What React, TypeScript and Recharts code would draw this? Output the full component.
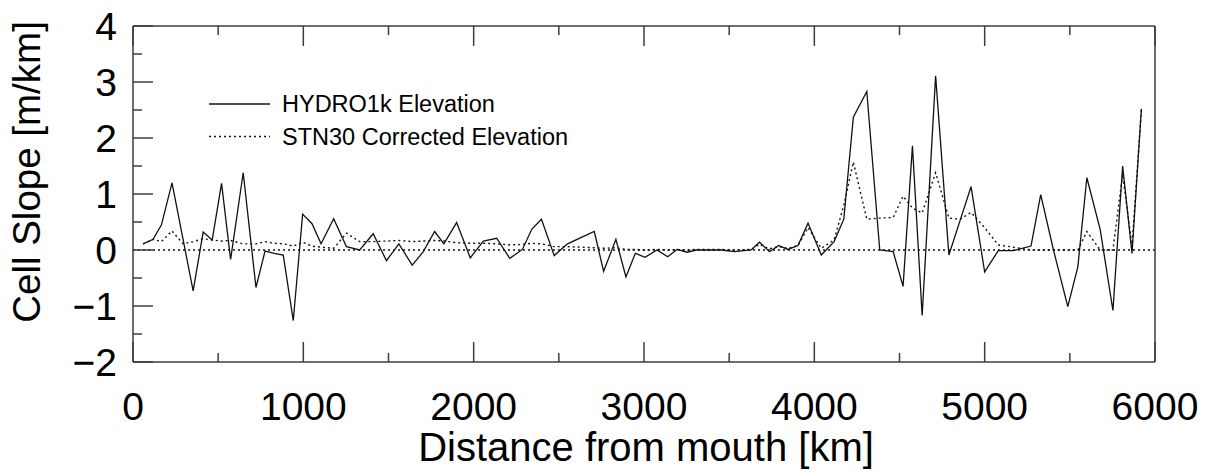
import { LineChart, Line, XAxis, YAxis, ReferenceLine, Legend } from 'recharts';

// distance from mouth (km) of every river cell
const distance = [
  59, 118, 167, 229, 294, 353, 412, 465, 520, 573,
  647, 722, 775, 830, 882, 941, 996, 1051, 1104, 1178,
  1253, 1331, 1410, 1488, 1561, 1639, 1704, 1771, 1825, 1900,
  1980, 2057, 2135, 2212, 2286, 2341, 2398, 2473, 2551, 2629,
  2708, 2763, 2835, 2894, 2949, 3006, 3076, 3139, 3194, 3253,
  3306, 3374, 3453, 3531, 3629, 3678, 3737, 3790, 3845, 3904,
  3963, 4041, 4116, 4173, 4229, 4308, 4384, 4463, 4521, 4576,
  4633, 4712, 4790, 4855, 4920, 5000, 5080, 5169, 5272, 5329,
  5404, 5488, 5547, 5600, 5678, 5753, 5810, 5865, 5920,
];

const hydro1k = [
  0.11, 0.19, 0.45, 1.2, 0.19, -0.73, 0.32, 0.18, 1.19, -0.17,
  1.38, -0.67, -0.02, -0.06, -0.09, -1.26, 0.64, 0.47, 0.11, 0.56,
  0.06, 0.0, 0.29, -0.19, 0.11, -0.27, -0.03, 0.33, 0.11, 0.49,
  -0.14, 0.16, 0.21, -0.15, 0.01, 0.37, 0.55, -0.1, 0.11, 0.22,
  0.33, -0.38, 0.19, -0.48, -0.06, -0.13, 0.0, -0.12, 0.01, -0.04,
  0.0, 0.0, 0.0, -0.03, 0.0, 0.14, -0.03, 0.08, 0.01, 0.08,
  0.48, -0.09, 0.15, 0.55, 2.37, 2.83, 0.0, -0.03, -0.65, 1.86,
  -1.17, 3.11, -0.09, 0.52, 1.13, -0.39, -0.01, -0.01, 0.07, 0.99,
  0.0, -1.01, -0.3, 1.29, 0.37, -1.08, 1.5, -0.06, 2.52,
];

const stn30 = [
  0.11, 0.19, 0.15, 0.34, 0.11, 0.15, 0.2, 0.18, 0.16, 0.17,
  0.11, 0.11, 0.15, 0.12, 0.11, 0.07, 0.14, 0.07, 0.05, 0.03,
  0.3, 0.15, 0.15, 0.16, 0.17, 0.15, 0.16, 0.17, 0.16, 0.13,
  0.12, 0.12, 0.11, 0.09, 0.1, 0.12, 0.11, 0.06, 0.06, 0.05,
  0.04, 0.03, 0.04, 0.01, 0.01, 0.0, 0.01, 0.0, 0.01, 0.0,
  0.01, 0.01, 0.01, 0.0, 0.01, 0.1, 0.02, 0.06, 0.03, 0.08,
  0.4, 0.03, 0.18, 0.8, 1.57, 0.55, 0.57, 0.58, 0.96, 0.75,
  0.66, 1.38, 0.57, 0.55, 0.67, 0.4, 0.09, 0.05, 0.0, 0.0,
  0.0, 0.0, 0.0, 0.33, 0.0, 0.0, 1.35, 0.06, 2.5,
];

const xTicks = [0, 500, 1000, 1500, 2000, 2500, 3000, 3500, 4000, 4500, 5000, 5500, 6000];
const yTicks = [-2, -1.5, -1, -0.5, 0, 0.5, 1, 1.5, 2, 2.5, 3, 3.5, 4];

const names: Record<string, string> = {
  hydro: 'HYDRO1k Elevation',
  stn: 'STN30 Corrected Elevation',
};
const dashes: Record<string, string | undefined> = { hydro: undefined, stn: '2 3' };

const data = distance.map((d, i) => ({ dist: d, hydro: hydro1k[i], stn: stn30[i] }));

const FONT = '"Liberation Sans", Arial, Helvetica, sans-serif';
const AXIS = '#3c3c3c';
const INK = '#111';

const fmt = (v: number) => (v < 0 ? '\u2212' + Math.abs(v) : String(v));

function BottomTick({ x, y, payload }: any) {
  const major = payload.value % 1000 === 0;
  return (
    <g>
      <line x1={x} x2={x} y1={y} y2={y - (major ? 20 : 9)} stroke={AXIS} strokeWidth={1.5} />
      {major && (
        <text x={x} y={y + 58} textAnchor="middle" fontSize={39} fontFamily={FONT} fill="#000">
          {payload.value}
        </text>
      )}
    </g>
  );
}

function TopTick({ x, y, payload }: any) {
  const major = payload.value % 1000 === 0;
  return <line x1={x} x2={x} y1={y} y2={y + (major ? 20 : 9)} stroke={AXIS} strokeWidth={1.5} />;
}

function LeftTick({ x, y, payload }: any) {
  const major = Number.isInteger(payload.value);
  return (
    <g>
      <line x1={x} x2={x + (major ? 20 : 9)} y1={y} y2={y} stroke={AXIS} strokeWidth={1.5} />
      {major && (
        <text x={x - 16} y={y} dy="0.36em" textAnchor="end" fontSize={39} fontFamily={FONT} fill="#000">
          {fmt(payload.value)}
        </text>
      )}
    </g>
  );
}

function RightTick({ x, y, payload }: any) {
  const major = Number.isInteger(payload.value);
  return <line x1={x} x2={x - (major ? 20 : 9)} y1={y} y2={y} stroke={AXIS} strokeWidth={1.5} />;
}

function LegendBox({ payload }: any) {
  return (
    <svg width={400} height={60} style={{ display: 'block' }}>
      {(payload || []).map((p: any, i: number) => (
        <g key={p.dataKey}>
          <line x1={0} x2={61} y1={12 + i * 32.5} y2={12 + i * 32.5} stroke={INK} strokeWidth={1.4}
            strokeDasharray={dashes[p.dataKey]} />
          <text x={73} y={12 + i * 32.5} dy="0.36em" fontSize={23.5} fontFamily={FONT} fill="#000">
            {names[p.dataKey]}
          </text>
        </g>
      ))}
    </svg>
  );
}

export default function App() {
  return (
    <div style={{ position: 'absolute', left: 0, top: 0 }}>
      <LineChart width={1205} height={473} data={data} margin={{ top: 25, right: 49, bottom: 0, left: 0 }}>
        <XAxis xAxisId="b" type="number" dataKey="dist" domain={[0, 6000]} ticks={xTicks} interval={0}
          height={111} tickSize={0} tickMargin={0} tickLine={false} tick={BottomTick}
          axisLine={{ stroke: AXIS, strokeWidth: 1.5 }}
          label={{
            content: () => (
              <text x={646} y={461} textAnchor="middle" fontSize={40} fontFamily={FONT} fill="#000">
                Distance from mouth [km]
              </text>
            ),
          }} />
        <XAxis xAxisId="t" orientation="top" type="number" dataKey="dist" domain={[0, 6000]} ticks={xTicks}
          interval={0} height={1} tickSize={0} tickMargin={0} tickLine={false} tick={TopTick}
          axisLine={{ stroke: AXIS, strokeWidth: 1.5 }} />
        <YAxis yAxisId="l" type="number" domain={[-2, 4]} ticks={yTicks} interval={0} width={133}
          tickSize={0} tickMargin={0} tickLine={false} tick={LeftTick}
          axisLine={{ stroke: AXIS, strokeWidth: 1.5 }}
          label={{
            content: () => (
              <text x={40} y={172} transform="rotate(-90, 40, 172)" textAnchor="middle" fontSize={38.5}
                fontFamily={FONT} fill="#000">
                Cell Slope [m/km]
              </text>
            ),
          }} />
        <YAxis yAxisId="r" orientation="right" type="number" domain={[-2, 4]} ticks={yTicks} interval={0}
          width={1} tickSize={0} tickMargin={0} tickLine={false} tick={RightTick}
          axisLine={{ stroke: AXIS, strokeWidth: 1.5 }} />
        <ReferenceLine xAxisId="b" yAxisId="l" y={0} stroke={INK} strokeWidth={1.5} strokeDasharray="2 3" />
        <Legend layout="vertical" align="center" verticalAlign="middle" content={LegendBox}
          wrapperStyle={{ left: 209, top: 92, width: 400 }} />
        <Line xAxisId="b" yAxisId="l" type="linear" dataKey="hydro" name={names.hydro} stroke={INK}
          strokeWidth={1.3} dot={false} isAnimationActive={false} />
        <Line xAxisId="b" yAxisId="l" type="linear" dataKey="stn" name={names.stn} stroke={INK}
          strokeWidth={1.4} strokeDasharray="2 3" dot={false} isAnimationActive={false} />
      </LineChart>
    </div>
  );
}
